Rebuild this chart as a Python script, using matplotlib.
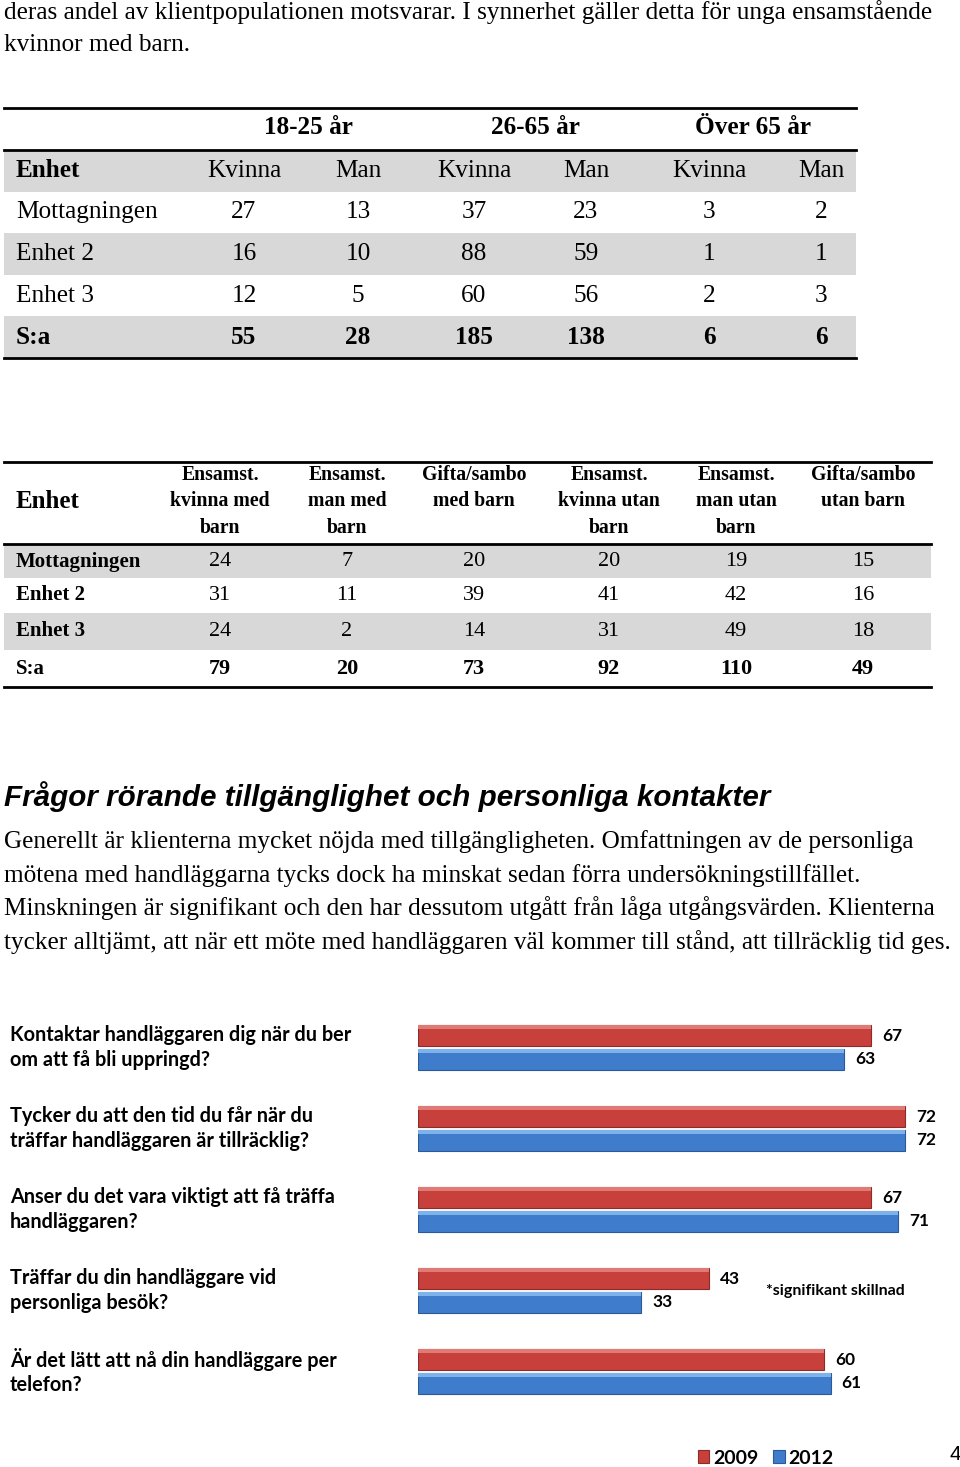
"""Sida 4: tabeller och stapeldiagram över tillgänglighet."""

import matplotlib
matplotlib.use("Agg")
import matplotlib.pyplot as plt
import matplotlib.transforms as mtransforms
from matplotlib.patches import Rectangle

SERIF = "Liberation Serif"
SANS = "Liberation Sans"
CAL = "Lato"

# --- data ---
intro = ["deras andel av klientpopulationen motsvarar. I synnerhet gäller detta för unga ensamstående",
         "kvinnor med barn."]

t1_groups = ["18-25 år", "26-65 år", "Över 65 år"]
t1_cols = ["Kvinna", "Man", "Kvinna", "Man", "Kvinna", "Man"]
t1_rows = ["Mottagningen", "Enhet 2", "Enhet 3", "S:a"]
t1_values = [[27, 13, 37, 23, 3, 2],
             [16, 10, 88, 59, 1, 1],
             [12, 5, 60, 56, 2, 3],
             [55, 28, 185, 138, 6, 6]]

t2_cols = ["Ensamst.\nkvinna med\nbarn", "Ensamst.\nman med\nbarn", "Gifta/sambo\nmed barn",
           "Ensamst.\nkvinna utan\nbarn", "Ensamst.\nman utan\nbarn", "Gifta/sambo\nutan barn"]
t2_rows = ["Mottagningen", "Enhet 2", "Enhet 3", "S:a"]
t2_values = [[24, 7, 20, 20, 19, 15],
             [31, 11, 39, 41, 42, 16],
             [24, 2, 14, 31, 49, 18],
             [79, 20, 73, 92, 110, 49]]

heading = "Frågor rörande tillgänglighet och personliga kontakter"
paragraph = ["Generellt är klienterna mycket nöjda med tillgängligheten. Omfattningen av de personliga",
             "mötena med handläggarna tycks dock ha minskat sedan förra undersökningstillfället.",
             "Minskningen är signifikant och den har dessutom utgått från låga utgångsvärden. Klienterna",
             "tycker alltjämt, att när ett möte med handläggaren väl kommer till stånd, att tillräcklig tid ges."]

questions = ["Kontaktar handläggaren dig när du ber\nom att få bli uppringd?",
             "Tycker du att den tid du får när du\nträffar handläggaren är tillräcklig?",
             "Anser du det vara viktigt att få träffa\nhandläggaren?",
             "Träffar du din handläggare vid\npersonliga besök?",
             "Är det lätt att nå din handläggare per\ntelefon?"]
v2009 = [67, 72, 67, 43, 60]
v2012 = [63, 72, 71, 33, 61]
years = ["2009", "2012"]

RED = "#c8403c"
BLUE = "#3f7ccc"
GRAY = "#d8d8d8"
FS = 18.2

fig = plt.figure(figsize=(9.6, 14.67), dpi=100)
page = fig.add_axes([0, 0, 1, 1])
page.set_xlim(0, 960)
page.set_ylim(1467, 0)
page.axis("off")

# inledande text
for i, line in enumerate(intro):
    page.text(4, 12 + 33 * i, line, family=SERIF, fontsize=FS, va="center")

# --- tabell 1 ---
x_l, x_r = 4, 856
c1 = [244, 358, 474, 586, 709, 821]
g1 = [308, 535, 753]
row_h1 = 41.6
y_head = 150
for r in range(5):
    if r % 2 == 0:
        page.add_patch(Rectangle((x_l, y_head + r * row_h1), x_r - x_l, row_h1,
                                 color=GRAY, lw=0))
for xc, g in zip(g1, t1_groups):
    page.text(xc, 128, g, family=SERIF, fontsize=FS, weight="bold", ha="center", va="center")
page.text(16, y_head + row_h1 / 2, "Enhet", family=SERIF, fontsize=FS, weight="bold", va="center")
for j, c in enumerate(t1_cols):
    page.text(c1[j], y_head + row_h1 / 2, c, family=SERIF, fontsize=FS, ha="center", va="center")
for i, (name, vals) in enumerate(zip(t1_rows, t1_values)):
    yc = y_head + (i + 1.5) * row_h1
    w = "bold" if name == "S:a" else "normal"
    page.text(16, yc, name, family=SERIF, fontsize=FS, weight=w, va="center")
    for j, v in enumerate(vals):
        page.text(c1[j], yc, str(v), family=SERIF, fontsize=FS, weight=w, ha="center", va="center")
for y in [108, 150, 358]:
    page.plot([x_l, x_r], [y, y], color="black", lw=2.0)

# --- tabell 2 ---
x_r2 = 931
c2 = [220, 347, 474, 609, 736, 863]
row_y2 = [545, 578, 613, 650, 687]
page.text(16, 501, "Enhet", family=SERIF, fontsize=18, weight="bold", va="center")
for j, c in enumerate(t2_cols):
    for k, part in enumerate(c.split("\n")):
        page.text(c2[j], 475 + 26.5 * k, part, family=SERIF, fontsize=14.2, weight="bold",
                  ha="center", va="center")
for i, (name, vals) in enumerate(zip(t2_rows, t2_values)):
    y0, y1 = row_y2[i], row_y2[i + 1]
    if i % 2 == 0:
        page.add_patch(Rectangle((x_l, y0), x_r2 - x_l, y1 - y0, color=GRAY, lw=0))
    yc = (y0 + y1) / 2
    page.text(16, yc, name, family=SERIF, fontsize=15, weight="bold", va="center")
    w = "bold" if name == "S:a" else "normal"
    for j, v in enumerate(vals):
        page.text(c2[j], yc, str(v), family=SERIF, fontsize=16, weight=w, ha="center", va="center")
for y in [462, 544, 687]:
    page.plot([x_l, x_r2], [y, y], color="black", lw=2.0)

# rubrik och stycke
page.text(4, 797, heading, family=SANS, fontsize=21.3, weight="bold", style="italic", va="center")
for i, line in enumerate(paragraph):
    page.text(4, 842 + 33.2 * i, line, family=SERIF, fontsize=FS, va="center")

# --- stapeldiagram ---
ax = fig.add_axes([418 / 960, 1 - 1412 / 1467, 541 / 960, 405 / 1467])
ax.axis("off")
pos = list(range(len(questions)))
h = 0.27
off = 0.148
b1 = ax.barh([p - off for p in pos], v2009, height=h, color=RED, edgecolor="#8e2a27", lw=0.8,
             label=years[0])
b2 = ax.barh([p + off for p in pos], v2012, height=h, color=BLUE, edgecolor="#2a5a99", lw=0.8,
             label=years[1])
# ljus kant upptill för 3D-känsla
ax.barh([p - off - h * 0.38 for p in pos], v2009, height=h * 0.2, color="#e07a74", lw=0)
ax.barh([p + off - h * 0.38 for p in pos], v2012, height=h * 0.2, color="#7db3ea", lw=0)
ax.set_xlim(0, 80)
ax.set_ylim(len(questions) - 0.5, -0.5)

for bars in (b1, b2):
    for rect in bars:
        ax.annotate(str(int(rect.get_width())),
                    (rect.get_width(), rect.get_y() + rect.get_height() / 2),
                    xytext=(8, 0), textcoords="offset points", va="center",
                    family=CAL, fontsize=12.4, weight="bold")

trans = mtransforms.blended_transform_factory(fig.transFigure, ax.transData)
for p, q in zip(pos, questions):
    ax.text(10 / 960, p, q, transform=trans, family=CAL, fontsize=14.3, weight="bold",
            va="center", linespacing=1.3)
ax.text(766 / 960, 3, "*signifikant skillnad", transform=trans, family=CAL, fontsize=11.5,
        weight="bold", va="center")

fig.legend(handles=[b1, b2], loc="center left", bbox_to_anchor=(680 / 960, 1 - 1458 / 1467),
           ncol=2, frameon=False, prop={"family": CAL, "size": 14, "weight": "bold"},
           handlelength=0.6, handleheight=0.6, handletextpad=0.2, columnspacing=0.75)
page.text(955, 1455, "4", family=SANS, fontsize=15, ha="center", va="center")

fig.savefig("out.png", dpi=100)
